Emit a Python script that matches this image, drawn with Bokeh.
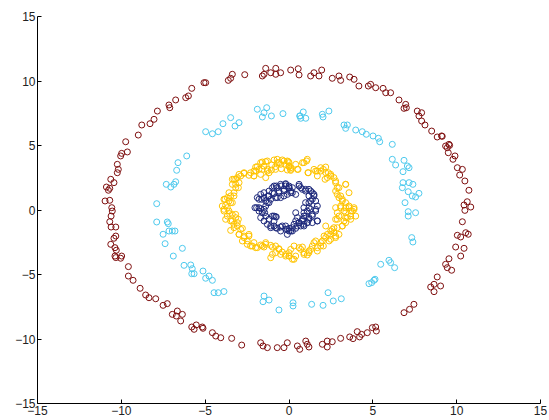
from bokeh.plotting import figure
from bokeh.models import FixedTicker, ColumnDataSource
from bokeh.embed import file_html
from bokeh.resources import INLINE

# ---- data ----
ring4_x = [-1.39,-0.79,-1.09,-0.79,-1.59,-1.49,-2.64,-3.38,-3.48,-3.62,-4.97,-5.07,-5.8,-6.0,-6.16,-6.76,-7.16,-7.11,-7.85,-8.05,-8.29,-8.78,-8.99,-9.74,-9.64,-9.98,-10.04,
           -10.24,-10.18,-10.24,-10.63,-10.44,-10.89,-10.69,-10.77,-10.97,-10.69,-10.57,-10.54,-10.61,-10.69,-10.61,-10.33,-10.33,-10.44,-10.63,-10.38,-10.3,-10.38,
           -9.98,-10.33,-10.04,-9.58,-9.58,-9.3,-8.88,-8.55,-8.35,-7.95,-7.51,-7.26,-6.96,-6.66,-6.72,-6.36,-6.46,-5.8,-5.66,-5.53,-5.17,-5.13,-4.57,-4.37,-4.07,-3.42,-2.82,-1.69,-1.55,-1.29,-0.7,-0.3,-0.1,0.5,0.64,1.0,1.09,1.19,
           1.99,2.28,2.58,2.28,3.08,3.62,3.82,4.07,4.33,4.21,4.67,4.97,5.17,5.21,6.86,7.19,7.45,8.45,8.65,8.65,9.04,8.84,9.34,9.44,9.7,9.54,9.94,10.44,10.24,10.04,10.24,10.54,10.69,10.34,10.49,
           10.84,10.44,10.63,10.73,10.49,10.18,10.34,10.04,9.9,9.78,9.5,9.44,9.54,9.34,9.14,8.84,8.51,8.11,7.91,7.75,7.91,7.65,6.86,7.0,6.96,6.56,6.06,5.77,5.61,5.17,4.87,4.73,4.17,3.88,3.62,3.08,2.98,2.58,1.95,1.79,1.49,1.29,0.6,0.55,0.1,-0.5,9.58,9.1]
ring4_y = [10.98,10.98,10.64,10.52,10.39,10.52,10.49,10.52,10.21,10.05,9.87,9.87,9.43,8.84,8.71,8.53,8.14,7.93,7.67,7.03,6.69,6.59,5.81,5.29,4.5,4.39,4.19,
           3.54,3.15,2.89,2.38,2.12,1.78,1.68,1.53,0.7,0.75,0.18,-0.08,-0.47,-0.91,-1.32,-1.32,-2.02,-2.19,-2.66,-2.92,-3.12,-3.57,
           -3.57,-3.69,-3.74,-4.39,-5.12,-5.45,-6.07,-6.59,-6.8,-6.88,-7.39,-7.26,-8.09,-7.83,-8.22,-8.09,-8.6,-9.07,-9.25,-8.91,-9.07,-9.17,-9.51,-9.77,-9.9,-9.95,-10.47,-10.29,-10.54,-10.67,-10.67,-10.67,-10.29,-10.54,-10.8,-10.16,-10.41,-10.62,
           -10.41,-10.16,-10.21,-10.62,-9.95,-9.84,-9.97,-9.43,-9.64,-9.84,-9.51,-9.12,-9.07,-9.38,-7.96,-7.7,-7.31,-5.97,-6.33,-5.76,-5.89,-5.19,-4.21,-4.47,-4.67,-3.78,-2.87,-2.97,-3.57,-1.96,-2.09,-1.76,-1.88,-0.91,-0.03,
           0.23,0.39,0.64,1.53,2.25,2.71,3.15,3.28,4.19,3.93,4.44,4.83,5.09,4.96,5.71,5.66,6.12,6.59,6.9,7.29,7.54,7.67,7.88,7.93,8.19,8.53,9.09,9.09,9.43,9.48,9.74,9.61,9.61,10.13,10.31,10.05,10.39,10.21,10.85,10.39,10.64,10.39,10.47,10.95,10.85,10.64,5.01,5.74]

ring3_x = [-1.89,-1.33,-1.49,-1.59,-1.05,-0.36,0.66,0.85,1.0,0.7,-3.48,-2.98,-3.22,-3.94,-4.22,-4.57,-4.97,-6.1,-6.62,-6.7,-6.76,-6.86,-7.32,-7.05,-7.89,
           -7.89,-7.26,-7.2,-7.51,-7.16,-6.96,-6.8,-7.39,-6.36,-6.9,-6.26,-5.86,-5.77,-5.66,-5.8,-5.13,-4.97,-4.77,-4.57,-4.47,-4.22,-3.88,-1.49,-1.55,-1.19,-0.6,0.24,0.24,1.35,
           6.92,7.11,7.11,7.55,7.32,7.39,5.47,5.96,6.06,6.3,4.77,4.93,5.07,5.13,2.33,2.64,3.12,2.03,
           0.64,1.99,2.03,2.38,3.28,3.48,3.38,3.98,4.37,4.61,5.01,5.33,5.41,6.16,6.16,6.36,6.86,7.06,7.16,6.8,6.8,6.76,7.16,7.39,7.11,7.35,7.55,7.75]
ring3_y = [7.81,7.93,7.54,7.21,7.29,7.47,7.29,7.6,7.11,7.11,7.16,6.77,6.51,6.69,6.07,5.91,6.07,4.19,3.67,3.08,2.19,1.99,1.99,1.78,0.49,
           -0.93,-0.93,-1.06,-1.88,-1.63,-1.63,-1.63,-2.61,-2.97,-3.57,-4.29,-4.26,-4.55,-4.94,-4.94,-4.73,-5.29,-5.12,-5.45,-6.41,-6.41,-6.32,-6.67,-7.11,-6.98,-7.75,-7.19,-7.44,-7.31,
           0.57,-0.13,-0.47,-0.21,-2.14,-2.48,-4.21,-3.9,-4.08,-4.47,-5.71,-5.63,-5.45,-5.37,-6.41,-7.05,-6.88,-7.39,
           7.29,7.42,7.21,7.67,6.59,6.59,6.33,6.2,6.07,5.87,5.74,5.56,5.29,5.09,3.93,3.49,3.85,3.41,3.28,2.97,2.12,1.73,2.12,1.99,1.42,1.09,1.01,1.29]

ring2_x = [-1.99,-1.69,-1.49,-1.29,-1.03,-0.70,-0.60,-0.30,-0.04,0.0,0.10,0.50,0.89,1.09,1.15,1.49,1.69,1.89,2.19,2.35,2.49,2.15,2.78,3.38,3.58,2.98,
           -2.68,-2.98,-3.18,-3.38,-2.29,-2.09,-1.19,-0.80,-1.39,0.40,-0.50,-1.79,-2.09,
           -3.18,-3.02,-3.58,-3.28,-3.82,-3.48,-3.98,-3.68,-3.88,-3.54,-3.18,-3.02,-3.78,-3.38,-3.08,-2.78,-3.48,-2.98,-3.28,
           -2.68,-2.49,-2.29,-1.99,-1.69,-1.39,-0.99,-0.60,-0.50,-0.20,0.0,0.30,-1.09,-0.80,0.60,0.89,1.19,1.39,1.69,1.89,1.99,2.19,2.39,1.59,2.78,2.58,2.88,3.18,2.78,2.98,3.38,3.68,3.78,3.58,3.88,3.38,3.18,3.08,2.88,0.80,1.09,-1.49,-2.09,-2.39,
           2.78,2.88,3.08,3.28,3.38,2.68,2.49,
           -1.59,-1.29,-0.89,-0.70,-0.40,-0.20,0.0,0.10,-0.10,-0.46,-0.80,-1.05,-1.29,-1.59,-1.89,-1.99,-2.09,-1.69,-1.39,-2.39,-2.68,-2.88,-3.08,-3.28,-3.38,-3.18,-2.98,-3.28,-3.48,-3.68,-3.88,-3.58,-3.38,-3.78,-3.88,-3.58,-3.68,-3.38,-3.18,-3.48,-3.08,-3.28,-2.88,-2.98,-2.68,-2.39,-2.78,-2.49,-2.19,-1.89,-1.59,-1.39,-1.09,-0.80,-0.60,-0.99,-0.40,-0.20,0.0,0.10,
           -0.10,0.0,0.10,0.54,0.80,1.05,1.13,1.59,1.69,1.89,2.05,2.19,2.29,2.49,2.68,2.78,2.88,2.78,3.38,2.98,3.18,3.38,3.08,3.58,3.68,3.88,3.98,3.68,3.48,3.38,3.28,2.88,2.68,3.18,2.98,2.78,2.49,2.29,2.09,1.89,2.05,1.69,1.49,1.29,1.19,0.89,0.70,0.30,0.0,0.20,0.40,2.49,2.19]
ring2_y = [3.33,3.67,3.41,3.15,3.49,3.93,3.67,3.80,3.75,3.41,3.07,3.15,3.67,3.93,2.89,3.15,3.02,3.28,3.33,2.89,2.64,2.38,2.25,1.99,1.34,1.73,
           2.89,2.76,2.38,2.38,2.89,2.64,2.89,3.15,3.75,3.54,3.54,3.15,3.02,
           1.99,1.73,1.34,1.09,0.83,0.57,0.31,0.18,-0.08,-0.28,-0.34,-0.72,-0.72,-0.85,-1.24,-1.42,-1.58,-1.89,-1.11,
           -2.14,-2.40,-2.79,-2.92,-2.71,-2.53,-2.87,-3.05,-3.44,-3.57,-3.31,-3.82,-3.70,-3.31,-2.92,-3.31,-3.18,-2.79,-3.18,-2.79,-2.40,-2.14,-2.40,-2.40,-2.02,-1.50,-1.37,-1.24,-0.72,-0.47,-0.59,-0.72,-0.08,0.18,0.18,0.57,0.83,1.09,1.21,-2.87,-3.49,-2.87,-2.53,-2.02,
           0.18,-0.21,0.31,-0.08,-0.98,-1.76,-1.89,
           3.72,3.80,3.88,3.67,3.88,3.54,3.67,3.28,3.10,3.20,3.36,3.10,3.02,3.15,3.36,3.02,2.64,2.76,2.51,2.69,2.84,2.64,2.51,2.38,1.99,1.73,2.12,1.34,1.09,0.96,0.83,0.70,0.57,0.36,0.05,-0.08,-0.47,-0.34,-0.59,-0.85,-0.98,-1.37,-1.50,-1.89,-2.02,-1.89,-2.40,-2.66,-2.79,-2.92,-2.79,-2.66,-2.74,-2.79,-3.00,-3.44,-3.26,-3.44,-3.57,-3.05,
           3.80,3.36,3.15,3.15,3.67,3.80,2.89,3.02,2.64,3.02,3.15,2.89,2.51,2.76,2.51,2.12,1.73,1.47,1.99,0.96,0.70,0.18,0.18,0.31,-0.08,0.05,-0.47,-0.47,-0.59,-0.21,-0.85,-0.72,-1.37,-1.24,-1.89,-2.14,-2.27,-1.89,-2.02,-2.53,-2.79,-2.92,-2.53,-3.05,-3.31,-3.44,-3.05,-2.79,-3.57,-3.82,-3.57,-1.63,-1.24]

ring1_x = [-1.69,-1.49,-1.19,-0.99,-0.76,-0.50,-0.20,0.0,-0.30,-0.60,-0.89,-1.19,-1.39,-1.63,-1.89,-2.03,-1.79,-1.49,-1.59,-1.69,-1.49,-1.29,-1.09,-0.89,-0.70,-0.50,-0.20,0.0,0.20,0.40,0.30,0.60,0.70,0.89,1.09,1.19,0.99,0.89,1.09,1.29,1.59,1.69,1.39,0.80,0.50,0.40,0.89,1.19,1.39,1.49,1.29,0.99,0.70,0.60,0.20,0.40,0.10,1.19,-0.99,-0.76,-1.19,-0.80,-0.50,
           -0.89,-0.70,-0.46,-0.20,0.0,0.10,-0.30,-0.60,-0.99,-1.25,-1.49,-1.79,-1.93,-1.69,-1.45,-1.39,-1.19,-0.89,-1.09,-0.80,-0.40,-0.10,0.10,-0.50,-0.89,-0.80,-1.79,-1.29,-1.09,-0.70,-0.30,-1.39,
           -0.20,0.0,-0.10,0.20,0.60,0.80,0.99,1.19,1.39,1.49,1.29,1.59,1.69,1.59,1.39,1.19,0.89,0.80,0.60,0.40,0.20,0.0,-0.20,-0.10,0.89,1.09,1.69,1.39,0.50,1.19,0.99]
ring1_y = [1.21,1.34,1.47,1.73,1.86,1.99,2.04,1.86,1.60,1.47,1.27,1.09,0.70,0.83,0.96,0.18,0.18,0.05,-0.21,-0.59,-0.85,-1.11,-1.37,-1.24,-1.42,-1.32,-1.24,-1.42,-1.63,-1.42,-1.11,-0.98,-1.24,-1.11,-0.98,-0.72,-0.47,-0.21,-0.08,0.05,0.05,-0.85,-0.47,-0.72,-0.59,-0.21,0.18,0.57,0.83,1.21,1.47,1.60,1.73,1.99,1.73,1.21,1.34,1.09,-0.47,-0.54,0.57,0.96,0.96,
           1.86,1.73,1.86,1.99,1.73,1.47,1.47,1.34,1.34,1.09,0.96,0.83,0.18,0.10,-0.21,-0.47,-0.72,-0.85,-1.24,-1.37,-1.24,-1.50,-1.63,-1.63,-0.47,-0.52,-0.08,0.57,0.83,0.96,1.09,0.31,
           1.86,1.73,1.21,1.34,1.86,1.60,1.47,1.60,1.34,1.09,0.70,0.70,0.31,-0.08,-0.34,-0.59,-0.47,-0.85,-0.98,-0.85,-1.37,-1.63,-1.50,-1.89,-1.24,-0.98,-0.85,-0.98,-1.24,0.18,0.57]

ticks = [-15, -10, -5, 0, 5, 10, 15]
colors = ["#1f2a7c", "#ffc400", "#4fcaee", "#7f1010"]

p = figure(width=549, height=420, x_range=(-15, 15), y_range=(-15, 15),
           output_backend="svg", toolbar_location=None,
           min_border_left=37, min_border_right=9, min_border_top=16, min_border_bottom=17)
p.grid.visible = False
p.outline_line_color = None
p.background_fill_color = "white"
p.border_fill_color = "white"

for xs, ys, c in [(ring4_x, ring4_y, colors[3]), (ring3_x, ring3_y, colors[2]),
                  (ring2_x, ring2_y, colors[1]), (ring1_x, ring1_y, colors[0])]:
    src = ColumnDataSource(dict(x=xs, y=ys))
    p.scatter("x", "y", source=src, marker="circle", size=6, fill_color=None,
              line_color=c, line_width=1)

for ax in (p.xaxis[0], p.yaxis[0]):
    ax.ticker = FixedTicker(ticks=ticks)
    ax.major_tick_in = 4
    ax.major_tick_out = 0
    ax.minor_tick_in = 0
    ax.minor_tick_out = 0
    ax.axis_line_color = "black"
    ax.major_tick_line_color = "black"
    ax.major_label_text_font = "Liberation Sans"
    ax.major_label_text_font_size = "12px"
    ax.major_label_text_color = "#222222"
    ax.major_label_standoff = 2

out = file_html(p, INLINE)
open("out.html", "w").write(out)
